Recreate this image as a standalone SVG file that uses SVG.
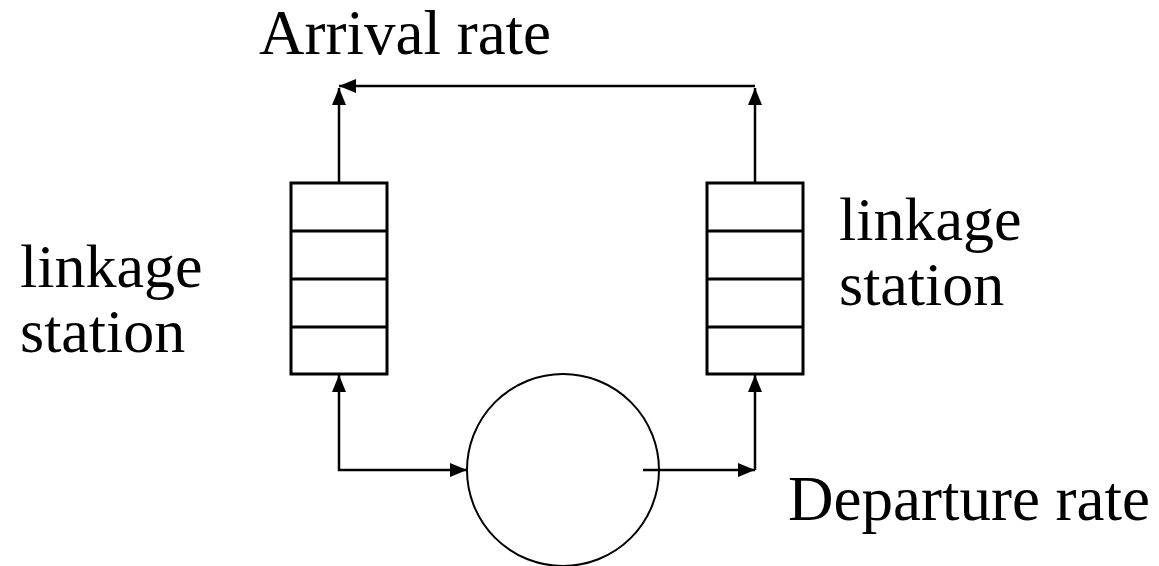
<svg xmlns="http://www.w3.org/2000/svg" width="1159" height="566" viewBox="0 0 1159 566">
  <style>
    .label { font-family: "Liberation Serif", "Times New Roman", serif; font-size: 63px; fill: #000; }
    .side { font-size: 62px; }
    .box { fill: #fff; stroke: #000; stroke-width: 3; }
    .cell { stroke: #000; stroke-width: 3; }
    .server { fill: #fff; stroke: #000; stroke-width: 2; }
    .conn { fill: none; stroke: #000; stroke-width: 2.5; }
  </style>
  <defs>
    <marker id="arrow" viewBox="0 0 17 14" markerWidth="17" markerHeight="14" refX="17" refY="7" orient="auto" markerUnits="userSpaceOnUse">
      <path d="M0,0 L17,7 L0,14 z" fill="#000"/>
    </marker>
    <marker id="arrow-start" viewBox="0 0 17 14" markerWidth="17" markerHeight="14" refX="0" refY="7" orient="auto" markerUnits="userSpaceOnUse">
      <path d="M17,0 L0,7 L17,14 z" fill="#000"/>
    </marker>
  </defs>

  <g id="connectors">
    <!-- left queue output up to the feedback line -->
    <line class="conn" x1="339" y1="183" x2="339" y2="88" marker-end="url(#arrow)"/>
    <!-- feedback line across the top -->
    <line class="conn" x1="755" y1="86" x2="339" y2="86" marker-end="url(#arrow)"/>
    <!-- right queue output up to the feedback line -->
    <line class="conn" x1="755" y1="182" x2="755" y2="88" marker-end="url(#arrow)"/>
    <!-- left queue to server -->
    <polyline class="conn" points="339,375 339,470 467,470" marker-start="url(#arrow-start)" marker-end="url(#arrow)"/>
    <!-- server departures -->
    <line class="conn" x1="643" y1="470" x2="755" y2="470" marker-end="url(#arrow)"/>
    <line class="conn" x1="755" y1="470" x2="755" y2="375" marker-end="url(#arrow)"/>
  </g>

  <g id="queue-left">
    <rect class="box" x="291" y="183" width="96" height="191"/>
    <line class="cell" x1="291" y1="231" x2="387" y2="231"/>
    <line class="cell" x1="291" y1="279" x2="387" y2="279"/>
    <line class="cell" x1="291" y1="327" x2="387" y2="327"/>
  </g>

  <g id="queue-right">
    <rect class="box" x="707" y="183" width="96" height="191"/>
    <line class="cell" x1="707" y1="231" x2="803" y2="231"/>
    <line class="cell" x1="707" y1="279" x2="803" y2="279"/>
    <line class="cell" x1="707" y1="327" x2="803" y2="327"/>
  </g>

  <g id="server">
    <circle class="server" cx="563" cy="470" r="96"/>
    <line class="conn" x1="643" y1="470" x2="660" y2="470"/>
  </g>

  <g id="labels">
    <text class="label" x="259" y="54">Arrival rate</text>
    <text class="label side" x="20" y="287">linkage</text>
    <text class="label side" x="20" y="352">station</text>
    <text class="label side" x="839" y="240">linkage</text>
    <text class="label side" x="839" y="305">station</text>
    <text class="label" x="788" y="520">Departure rate</text>
  </g>
</svg>
